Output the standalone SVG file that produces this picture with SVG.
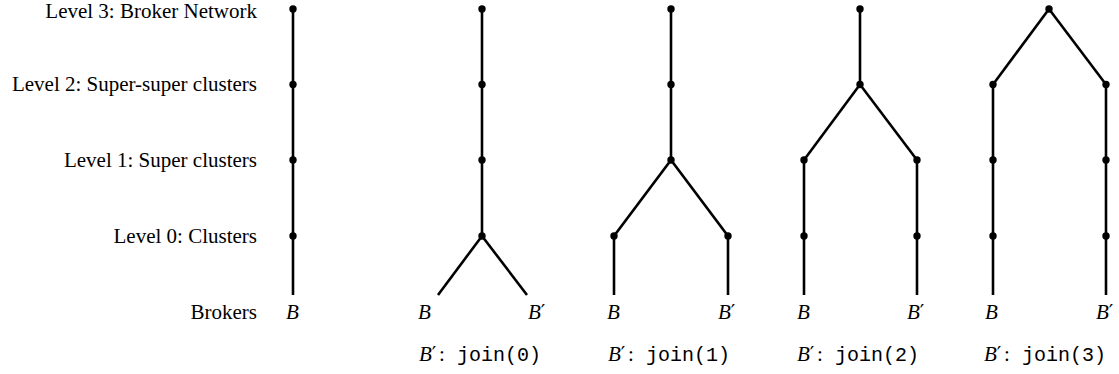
<svg xmlns="http://www.w3.org/2000/svg" width="1119" height="374" viewBox="0 0 1119 374">
<style>
.lvl{font-family:"Liberation Serif","Times New Roman",serif;font-size:21px;fill:#000;text-anchor:end}
.m{font-family:"Liberation Serif","DejaVu Serif",serif;font-size:21px;font-style:italic;fill:#000}
.pr{font-family:"DejaVu Serif","Liberation Serif",serif;font-size:20px;font-style:normal}
.rm{font-family:"Liberation Serif",serif;font-style:normal;font-size:21px}
.tt{font-family:"Liberation Mono","Courier New",monospace;font-size:20px;font-style:normal}
.e{stroke:#000;stroke-width:2.6;fill:none;stroke-linecap:butt}
.d{fill:#000}
</style>
<rect width="1119" height="374" fill="#fff"/>
<g id="levels">
<text class="lvl" x="257" y="17.5">Level 3: Broker Network</text>
<text class="lvl" x="257" y="91">Level 2: Super-super clusters</text>
<text class="lvl" x="257" y="167">Level 1: Super clusters</text>
<text class="lvl" x="257" y="243">Level 0: Clusters</text>
<text class="lvl" x="257" y="319">Brokers</text>
</g>
<g id="connectors">
<line class="e" x1="293" y1="9" x2="293" y2="295"/>
<line class="e" x1="482" y1="9" x2="482" y2="236"/>
<line class="e" x1="482" y1="236" x2="438" y2="295"/>
<line class="e" x1="482" y1="236" x2="527" y2="295"/>
<line class="e" x1="671" y1="9" x2="671" y2="160"/>
<line class="e" x1="671" y1="160" x2="614" y2="236"/>
<line class="e" x1="671" y1="160" x2="728" y2="236"/>
<line class="e" x1="614" y1="236" x2="614" y2="295"/>
<line class="e" x1="728" y1="236" x2="728" y2="295"/>
<line class="e" x1="860" y1="9" x2="860" y2="84.5"/>
<line class="e" x1="860" y1="84.5" x2="804" y2="160"/>
<line class="e" x1="860" y1="84.5" x2="917" y2="160"/>
<line class="e" x1="804" y1="160" x2="804" y2="295"/>
<line class="e" x1="917" y1="160" x2="917" y2="295"/>
<line class="e" x1="1049" y1="9" x2="993" y2="84.5"/>
<line class="e" x1="1049" y1="9" x2="1106" y2="84.5"/>
<line class="e" x1="993" y1="84.5" x2="993" y2="295"/>
<line class="e" x1="1106" y1="84.5" x2="1106" y2="295"/>
</g>
<g id="c1-l3"><circle class="d" cx="293" cy="9" r="3.7"/></g>
<g id="c1-l2"><circle class="d" cx="293" cy="84.5" r="3.7"/></g>
<g id="c1-l1"><circle class="d" cx="293" cy="160" r="3.7"/></g>
<g id="c1-l0"><circle class="d" cx="293" cy="236" r="3.7"/></g>
<g id="c2-l3"><circle class="d" cx="482" cy="9" r="3.7"/></g>
<g id="c2-l2"><circle class="d" cx="482" cy="84.5" r="3.7"/></g>
<g id="c2-l1"><circle class="d" cx="482" cy="160" r="3.7"/></g>
<g id="c2-l0"><circle class="d" cx="482" cy="236" r="3.7"/></g>
<g id="c3-l3"><circle class="d" cx="671" cy="9" r="3.7"/></g>
<g id="c3-l2"><circle class="d" cx="671" cy="84.5" r="3.7"/></g>
<g id="c3-l1"><circle class="d" cx="671" cy="160" r="3.7"/></g>
<g id="c3-l0a"><circle class="d" cx="614" cy="236" r="3.7"/></g>
<g id="c3-l0b"><circle class="d" cx="728" cy="236" r="3.7"/></g>
<g id="c4-l3"><circle class="d" cx="860" cy="9" r="3.7"/></g>
<g id="c4-l2"><circle class="d" cx="860" cy="84.5" r="3.7"/></g>
<g id="c4-l1a"><circle class="d" cx="804" cy="160" r="3.7"/></g>
<g id="c4-l1b"><circle class="d" cx="917" cy="160" r="3.7"/></g>
<g id="c4-l0a"><circle class="d" cx="804" cy="236" r="3.7"/></g>
<g id="c4-l0b"><circle class="d" cx="917" cy="236" r="3.7"/></g>
<g id="c5-l3"><circle class="d" cx="1049" cy="9" r="3.7"/></g>
<g id="c5-l2a"><circle class="d" cx="993" cy="84.5" r="3.7"/></g>
<g id="c5-l2b"><circle class="d" cx="1106" cy="84.5" r="3.7"/></g>
<g id="c5-l1a"><circle class="d" cx="993" cy="160" r="3.7"/></g>
<g id="c5-l1b"><circle class="d" cx="1106" cy="160" r="3.7"/></g>
<g id="c5-l0a"><circle class="d" cx="993" cy="236" r="3.7"/></g>
<g id="c5-l0b"><circle class="d" cx="1106" cy="236" r="3.7"/></g>
<g id="brokers">
<text class="m" x="286" y="319">B</text>
<text class="m" x="418" y="319">B</text>
<text class="m" x="528" y="319">B<tspan class="pr">′</tspan></text>
<text class="m" x="607" y="319">B</text>
<text class="m" x="718" y="319">B<tspan class="pr">′</tspan></text>
<text class="m" x="797" y="319">B</text>
<text class="m" x="907" y="319">B<tspan class="pr">′</tspan></text>
<text class="m" x="985" y="319">B</text>
<text class="m" x="1096" y="319">B<tspan class="pr">′</tspan></text>
</g>
<g id="captions">
<text class="m" x="419" y="361">B<tspan class="pr">′</tspan><tspan class="rm" x="439">:</tspan><tspan class="tt" x="457">join(0)</tspan></text>
<text class="m" x="608" y="361">B<tspan class="pr">′</tspan><tspan class="rm" x="628">:</tspan><tspan class="tt" x="646">join(1)</tspan></text>
<text class="m" x="797" y="361">B<tspan class="pr">′</tspan><tspan class="rm" x="817">:</tspan><tspan class="tt" x="835">join(2)</tspan></text>
<text class="m" x="984" y="361">B<tspan class="pr">′</tspan><tspan class="rm" x="1004">:</tspan><tspan class="tt" x="1022">join(3)</tspan></text>
</g>
</svg>
